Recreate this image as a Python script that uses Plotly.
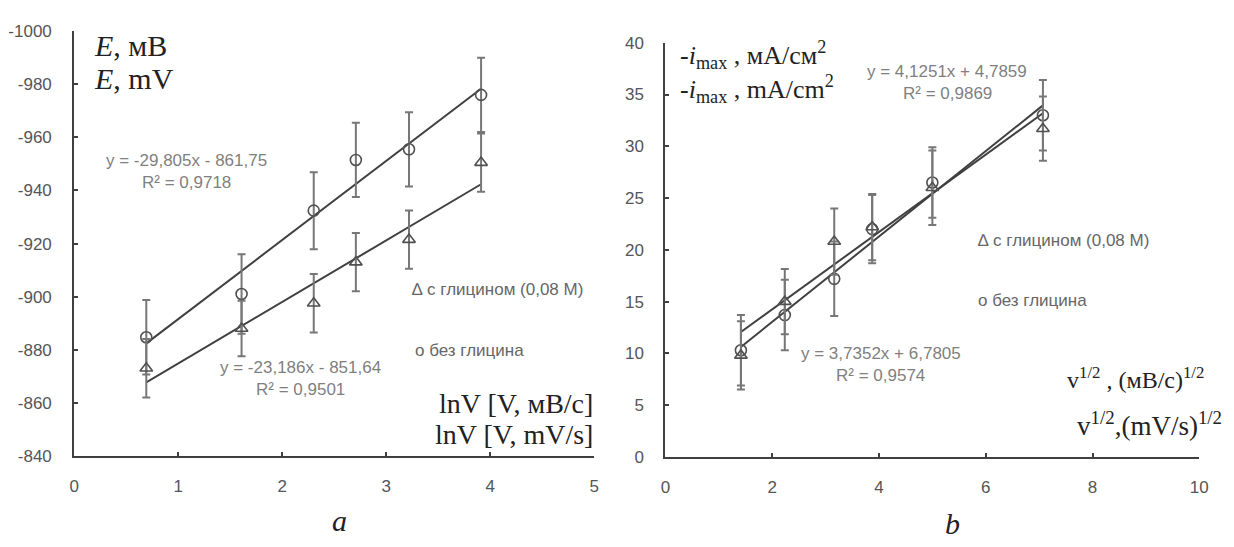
import numpy as np
import plotly.graph_objects as go

# ---------------- data: panel a ----------------
a_x = [0.693, 1.609, 2.303, 2.708, 3.219, 3.912]          # lnV
a_circ = [-884.7, -901.0, -932.4, -951.5, -955.5, -976.0]  # без глицина
a_circ_err = [14, 15, 14.5, 14, 14, 14]
a_tri = [-873.0, -888.0, -897.5, -913.0, -921.5, -950.5]   # с глицином
a_tri_err = [11, 10.5, 11, 11, 11, 11]
a_fit_circ = (-29.805, -861.75)
a_fit_tri = (-23.186, -851.64)

# ---------------- data: panel b ----------------
b_x = [1.414, 2.236, 3.162, 3.873, 5.0, 7.071]             # v^1/2
b_circ = [10.3, 13.7, 17.2, 22.0, 26.5, 33.0]
b_circ_err = [3.4, 3.4, 3.6, 3.3, 3.4, 3.4]
b_tri = [9.8, 15.0, 20.8, 22.2, 26.0, 31.7]
b_tri_err = [3.3, 3.15, 3.2, 3.2, 3.6, 3.1]
b_fit_circ = (4.1251, 4.7859)
b_fit_tri = (3.7352, 6.7805)

a_yticks = [-1000, -980, -960, -940, -920, -900, -880, -860, -840]
a_yticklabels = ["-1000", "-980", "-960", "-940", "-920", "-900", "-880", "-860", "-840"]
a_xticks = [0, 1, 2, 3, 4, 5]
b_yticks = [0, 5, 10, 15, 20, 25, 30, 35, 40]
b_xticks = [0, 2, 4, 6, 8, 10]

AX = "#404040"
ERR = "#777777"
MK = "#505050"
TXT = "#7f7f7f"
SANS = "Liberation Sans"
SERIF = "Liberation Serif"

fig = go.Figure()


def add_series(x, y, err, symbol, xa, ya):
    fig.add_trace(go.Scatter(
        x=x, y=y, mode="markers", xaxis=xa, yaxis=ya, showlegend=False,
        marker=dict(symbol=symbol, size=11, color=MK,
                    line=dict(color=MK, width=1.6)),
        error_y=dict(type="data", array=err, visible=True, color=ERR,
                     thickness=2, width=4)))


def add_fit(x, coef, xa, ya):
    xs = np.array([x[0], x[-1]])
    ys = coef[0] * xs + coef[1]
    fig.add_trace(go.Scatter(x=xs, y=ys, mode="lines", xaxis=xa, yaxis=ya,
                             showlegend=False,
                             line=dict(color=AX, width=2)))


add_fit(a_x, a_fit_circ, "x", "y")
add_fit(a_x, a_fit_tri, "x", "y")
add_series(a_x, a_circ, a_circ_err, "circle-open", "x", "y")
add_series(a_x, a_tri, a_tri_err, "triangle-up-open", "x", "y")

add_fit(b_x, b_fit_circ, "x2", "y2")
add_fit(b_x, b_fit_tri, "x2", "y2")
add_series(b_x, b_circ, b_circ_err, "circle-open", "x2", "y2")
add_series(b_x, b_tri, b_tri_err, "triangle-up-open", "x2", "y2")

W, H = 1234, 547
axfont = dict(family=SANS, size=17, color="#555555")
common = dict(showline=True, linecolor=AX, linewidth=2, showgrid=False,
              zeroline=False, ticks="inside", ticklen=4, tickwidth=1.5,
              tickcolor=AX, tickfont=axfont)

fig.update_layout(
    width=W, height=H, margin=dict(l=0, r=0, t=0, b=0),
    paper_bgcolor="white", plot_bgcolor="white",
    xaxis=dict(domain=[70 / W, 596 / W], range=[0, 5], tickvals=a_xticks,
               anchor="y", ticklabelstandoff=14, **common),
    yaxis=dict(domain=[1 - 463 / H, 1 - 23 / H], range=[-840, -1000],
               tickvals=a_yticks, ticktext=a_yticklabels, anchor="x",
               ticklabelstandoff=17, **common),
    xaxis2=dict(domain=[668 / W, 1208 / W], range=[0, 10], tickvals=b_xticks,
                anchor="y2", ticklabelstandoff=14, **common),
    yaxis2=dict(domain=[1 - 464 / H, 1 - 35 / H], range=[0, 40],
                tickvals=b_yticks, anchor="x2", ticklabelstandoff=16, **common),
)


def ann(text, x, y, size, family, color="#222222", xanchor="left"):
    fig.add_annotation(text=text, x=x / W, y=1 - y / H, xref="paper",
                       yref="paper", showarrow=False, xanchor=xanchor,
                       yanchor="middle", font=dict(family=family, size=size,
                                                   color=color))


# panel a texts
ann("<i>E</i>, мВ", 88, 38, 30, SERIF)
ann("<i>E</i>, mV", 88, 72, 30, SERIF)
ann("y = -29,805x - 861,75", 184, 157, 17, SANS, TXT, "center")
ann("R² = 0,9718", 184, 180, 17, SANS, TXT, "center")
ann("y = -23,186x - 851,64", 299, 371, 17, SANS, TXT, "center")
ann("R² = 0,9501", 299, 394, 17, SANS, TXT, "center")
ann("∆ с глицином (0,08 М)", 410, 291, 17, SANS, "#666666")
ann("o без глицина", 413, 354, 17, SANS, "#666666")
ann("lnV [V, мВ/с]", 597, 409, 28, SERIF, xanchor="right")
ann("lnV [V, mV/s]", 597, 441, 28, SERIF, xanchor="right")
ann("<i>a</i>", 338, 530, 30, SERIF, xanchor="center")

# panel b texts
ann("-<i>i</i><sub>max</sub> , мА/см<sup>2</sup>", 681, 48, 26, SERIF)
ann("-<i>i</i><sub>max</sub> , mA/cm<sup>2</sup>", 681, 83, 26, SERIF)
ann("y = 4,1251x + 4,7859", 953, 65, 17, SANS, TXT, "center")
ann("R² = 0,9869", 953, 88, 17, SANS, TXT, "center")
ann("y = 3,7352x + 6,7805", 886, 357, 17, SANS, TXT, "center")
ann("R² = 0,9574", 886, 380, 17, SANS, TXT, "center")
ann("∆ с глицином (0,08 М)", 982, 240, 17, SANS, "#666666")
ann("o без глицина", 982, 302, 17, SANS, "#666666")
ann("v<sup>1/2</sup> , (мВ/с)<sup>1/2</sup>", 1215, 382, 24, SERIF, xanchor="right")
ann("v<sup>1/2</sup>,(mV/s)<sup>1/2</sup>", 1233, 430, 27, SERIF, xanchor="right")
ann("<i>b</i>", 958, 533, 30, SERIF, xanchor="center")

fig.write_html("out.html")
